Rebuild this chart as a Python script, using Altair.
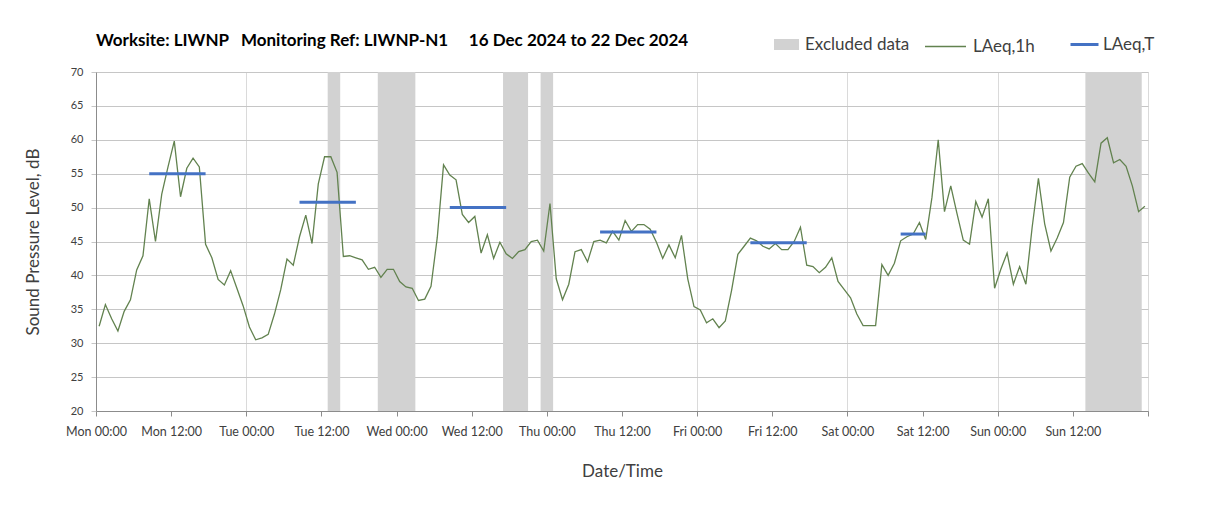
import altair as alt
import pandas as pd

# Hourly LAeq,1h values, Mon 16 Dec 2024 00:00 .. Sun 22 Dec 2024 23:00
laeq_1h = [
    32.5, 35.7, 33.6, 31.8, 34.7, 36.4, 40.8, 42.9, 51.3, 45.0, 52.0, 56.0,
    59.8, 51.6, 55.8, 57.3, 56.0, 44.6, 42.6, 39.4, 38.6, 40.7, 38.1, 35.5,
    32.4, 30.5, 30.8, 31.3, 34.3, 37.9, 42.4, 41.5, 45.7, 48.9, 44.7, 53.5,
    57.5, 57.5, 55.2, 42.8, 42.9, 42.6, 42.3, 40.9, 41.2, 39.7, 40.9, 40.9,
    39.1, 38.3, 38.1, 36.3, 36.5, 38.4, 45.6, 56.3, 54.8, 54.1, 49.0, 47.8,
    48.7, 43.3, 46.0, 42.5, 44.9, 43.2, 42.5, 43.5, 43.8, 45.0, 45.2, 43.6,
    50.6, 39.5, 36.4, 38.7, 43.5, 43.8, 42.0, 45.0, 45.2, 44.8, 46.5, 45.2,
    48.1, 46.5, 47.5, 47.5, 46.8, 44.9, 42.5, 44.5, 42.6, 45.9, 39.5, 35.4,
    34.9, 33.0, 33.6, 32.3, 33.3, 37.8, 43.1, 44.3, 45.5, 45.1, 44.3, 43.9,
    44.7, 43.8, 43.8, 45.0, 47.1, 41.5, 41.3, 40.4, 41.2, 42.6, 39.1, 37.9,
    36.7, 34.3, 32.6, 32.6, 32.6, 41.6, 40.0, 41.8, 45.1, 45.7, 46.1, 47.8,
    45.3, 51.5, 60.0, 49.4, 53.2, 49.1, 45.2, 44.6, 50.9, 48.6, 51.3, 38.1,
    40.9, 43.3, 38.7, 41.3, 38.7, 47.1, 54.3, 47.6, 43.6, 45.5, 47.8, 54.5,
    56.1, 56.5, 55.1, 53.8, 59.5, 60.3, 56.6, 57.1, 56.1, 53.2, 49.4, 50.2,
]
hours = [i + 0.5 for i in range(len(laeq_1h))]

# LAeq,T period values (daytime periods)
laeqT_start = [8.5, 32.5, 56.5, 80.5, 104.5, 128.5]
laeqT_end = [17.5, 41.5, 65.5, 89.5, 113.5, 132.5]
laeqT_value = [55.0, 50.8, 50.0, 46.4, 44.8, 46.1]

# Excluded data periods (hours from Mon 00:00)
excl_start = [37, 45, 65, 71, 158]
excl_end = [39, 51, 69, 73, 167]

df_line = pd.DataFrame({"h": hours, "v": laeq_1h, "s": "LAeq,1h"})
df_T = pd.DataFrame({"h": laeqT_start, "h2": laeqT_end, "v": laeqT_value, "s": "LAeq,T"})
df_ex = pd.DataFrame({"h": excl_start, "h2": excl_end, "s": "Excluded data"})

FONT = "Lato"
x_scale = alt.Scale(domain=[0, 168], nice=False, zero=False)
y_scale = alt.Scale(domain=[20, 70], nice=False, zero=False)

label_expr = ("datum.value >= 168 ? '' : ['Mon','Tue','Wed','Thu','Fri','Sat','Sun']"
              "[floor(datum.value/24)] + (datum.value % 24 === 0 ? ' 00:00' : ' 12:00')")

x_axis = alt.Axis(
    values=list(range(0, 169, 12)), labelExpr=label_expr, title="Date/Time",
    grid=True,
    gridColor={"condition": {"test": "datum.value % 24 === 0", "value": "#dadada"},
               "value": "rgba(255,255,255,0)"},
    gridWidth=1, tickSize=5, tickColor="#8c8c8c", domainColor="#8c8c8c",
    labelFont=FONT, labelFontSize=12.5, labelColor="#404040", labelPadding=9,
    labelOverlap=False, labelFlush=False,
    titleFont=FONT, titleFontSize=17, titleFontWeight="normal", titleColor="#404040",
    titlePadding=26,
)
y_axis = alt.Axis(
    values=list(range(20, 71, 5)), title="Sound Pressure Level, dB",
    grid=True, gridColor="#c6c6c6", gridWidth=1, tickSize=5, tickColor="#c6c6c6",
    domainColor="#8c8c8c",
    labelFont=FONT, labelFontSize=11, labelColor="#404040", labelPadding=8,
    titleFont=FONT, titleFontSize=17, titleFontWeight="normal", titleColor="#404040",
    titlePadding=28,
)

legend_common = dict(title=None, orient="none", labelFont=FONT, labelFontSize=17,
                     labelColor="#404040")

bands = alt.Chart(df_ex).mark_rect(opacity=1).encode(
    x=alt.X("h:Q", scale=x_scale, axis=x_axis),
    x2="h2:Q",
    fill=alt.Fill("s:N", scale=alt.Scale(domain=["Excluded data"], range=["#d2d2d2"]),
                  legend=alt.Legend(legendX=678, legendY=-40,
                                    symbolType="M-1,-0.44H1V0.44H-1Z", symbolSize=625,
                                    symbolStrokeWidth=0, labelOffset=6, **legend_common)),
)

line = alt.Chart(df_line).mark_line(strokeWidth=1.3).encode(
    x=alt.X("h:Q", scale=x_scale, axis=x_axis),
    y=alt.Y("v:Q", scale=y_scale, axis=y_axis),
    stroke=alt.Stroke("s:N", scale=alt.Scale(domain=["LAeq,1h"], range=["#62824f"]),
                      legend=alt.Legend(legendX=828, legendY=-47,
                                        symbolType="stroke", symbolSize=1681,
                                        symbolStrokeWidth=1.3, labelOffset=6, **legend_common)),
)

rules = alt.Chart(df_T).mark_rule(strokeWidth=3).encode(
    x=alt.X("h:Q", scale=x_scale, axis=x_axis),
    x2="h2:Q",
    y=alt.Y("v:Q", scale=y_scale, axis=y_axis),
    color=alt.Color("s:N", scale=alt.Scale(domain=["LAeq,T"], range=["#4472c4"]),
                    legend=alt.Legend(legendX=973, legendY=-43,
                                      symbolType="stroke", symbolSize=784,
                                      symbolStrokeWidth=3, labelOffset=3, **legend_common)),
)

title_text = ("Worksite: LIWNP\u00a0\u00a0\u00a0Monitoring Ref: LIWNP-N1"
              "\u00a0\u00a0\u00a0\u00a0\u00a016 Dec 2024 to 22 Dec 2024")

chart = alt.layer(bands, line, rules).resolve_scale(
    color="independent", fill="independent", stroke="independent"
).properties(
    width=1052, height=339,
    title=alt.TitleParams(text=title_text, anchor="start", frame="group", font=FONT,
                          fontSize=17, fontWeight="bold", color="#000000", offset=-25),
    padding={"left": 16, "top": 17, "right": 10, "bottom": 5},
).configure_view(stroke="#dadada", strokeWidth=1).configure(background="white")

chart.save("out.html", embed_options={"renderer": "svg", "actions": False})
